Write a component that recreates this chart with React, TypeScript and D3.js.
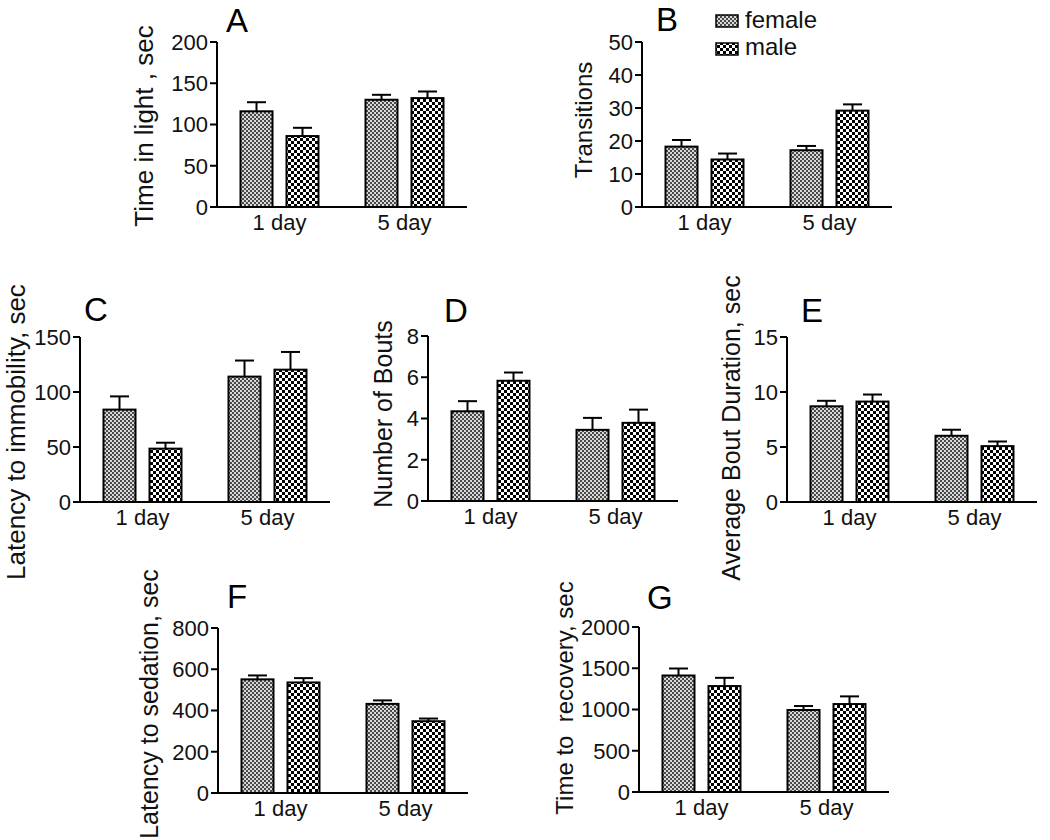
import React from "react";
import * as d3 from "d3";

// ---------- data ----------
const days = ["1 day", "5 day"];
const sexes = ["female", "male"];

// A: Time in light, sec
const lightFemale = [116, 130];
const lightFemaleErr = [11, 6];
const lightMale = [86, 132];
const lightMaleErr = [10, 8];
const lightTicks = [0, 50, 100, 150, 200];

// B: Transitions
const transFemale = [18.3, 17.2];
const transFemaleErr = [2.0, 1.3];
const transMale = [14.4, 29.2];
const transMaleErr = [1.8, 1.9];
const transTicks = [0, 10, 20, 30, 40, 50];

// C: Latency to immobility, sec
const immobFemale = [84, 114];
const immobFemaleErr = [12, 14.6];
const immobMale = [48.5, 120.3];
const immobMaleErr = [5.4, 16.1];
const immobTicks = [0, 50, 100, 150];

// D: Number of Bouts
const boutsFemale = [4.35, 3.45];
const boutsFemaleErr = [0.49, 0.58];
const boutsMale = [5.83, 3.79];
const boutsMaleErr = [0.4, 0.64];
const boutsTicks = [0, 2, 4, 6, 8];

// E: Average Bout Duration, sec
const durFemale = [8.7, 6.02];
const durFemaleErr = [0.5, 0.55];
const durMale = [9.13, 5.08];
const durMaleErr = [0.64, 0.42];
const durTicks = [0, 5, 10, 15];

// F: Latency to sedation, sec
const sedFemale = [551, 432];
const sedFemaleErr = [19, 17];
const sedMale = [536, 348];
const sedMaleErr = [21, 13];
const sedTicks = [0, 200, 400, 600, 800];

// G: Time to recovery, sec
const recFemale = [1412, 994];
const recFemaleErr = [85, 48];
const recMale = [1284, 1066];
const recMaleErr = [100, 93];
const recTicks = [0, 500, 1000, 1500, 2000];

// ---------- layout ----------
const FONT = "'Liberation Sans', Arial, Helvetica, sans-serif";
const PLOT_H = 165;
const AXIS_LEN = 250;

type PanelDef = {
  letter: string;
  title: string;
  female: number[];
  femaleErr: number[];
  male: number[];
  maleErr: number[];
  ticks: number[];
  ax: number;
  top: number;
  letterX: number;
  letterY: number;
  titleX: number;
  titleY: number;
  titleSize: number;
};

const panels: PanelDef[] = [
  { letter: "A", title: "Time in light , sec", female: lightFemale, femaleErr: lightFemaleErr, male: lightMale, maleErr: lightMaleErr, ticks: lightTicks, ax: 217, top: 42, letterX: 226, letterY: 32, titleX: 153, titleY: 126, titleSize: 26 },
  { letter: "B", title: "Transitions", female: transFemale, femaleErr: transFemaleErr, male: transMale, maleErr: transMaleErr, ticks: transTicks, ax: 642, top: 42, letterX: 656, letterY: 31, titleX: 592, titleY: 120, titleSize: 24 },
  { letter: "C", title: "Latency to immobility, sec", female: immobFemale, femaleErr: immobFemaleErr, male: immobMale, maleErr: immobMaleErr, ticks: immobTicks, ax: 80, top: 337, letterX: 84, letterY: 321, titleX: 25, titleY: 432, titleSize: 26 },
  { letter: "D", title: "Number of Bouts", female: boutsFemale, femaleErr: boutsFemaleErr, male: boutsMale, maleErr: boutsMaleErr, ticks: boutsTicks, ax: 428, top: 336, letterX: 444, letterY: 322, titleX: 392, titleY: 414, titleSize: 25 },
  { letter: "E", title: "Average Bout Duration, sec", female: durFemale, femaleErr: durFemaleErr, male: durMale, maleErr: durMaleErr, ticks: durTicks, ax: 787, top: 337, letterX: 801, letterY: 322, titleX: 740, titleY: 428, titleSize: 25 },
  { letter: "F", title: "Latency to sedation, sec", female: sedFemale, femaleErr: sedFemaleErr, male: sedMale, maleErr: sedMaleErr, ticks: sedTicks, ax: 218, top: 628, letterX: 227, letterY: 608, titleX: 158, titleY: 704, titleSize: 25 },
  { letter: "G", title: "Time to  recovery, sec", female: recFemale, femaleErr: recFemaleErr, male: recMale, maleErr: recMaleErr, ticks: recTicks, ax: 639, top: 627, letterX: 647, letterY: 609, titleX: 573, titleY: 698, titleSize: 24 },
];

const fillFor: Record<string, string> = { female: "url(#patFemale)", male: "url(#patMale)" };

function Panel({ p }: { p: PanelDef }) {
  const base = p.top + PLOT_H;
  const yMax = p.ticks[p.ticks.length - 1];
  const y = d3.scaleLinear().domain([0, yMax]).range([base, p.top]);
  const x0 = d3.scaleBand<string>().domain(days).range([p.ax, p.ax + AXIS_LEN]).paddingInner(0).paddingOuter(0);
  const x1 = d3.scaleBand<string>().domain(sexes).range([0, x0.bandwidth()]).paddingInner(0.3043).paddingOuter(0.511);
  const bw = x1.bandwidth();
  const series: Record<string, { v: number[]; e: number[] }> = {
    female: { v: p.female, e: p.femaleErr },
    male: { v: p.male, e: p.maleErr },
  };
  return (
    <g>
      {days.map((d, di) =>
        sexes.map((s) => {
          const v = series[s].v[di];
          const e = series[s].e[di];
          const bx = (x0(d) as number) + (x1(s) as number);
          const cx = bx + bw / 2;
          const capW = 19;
          return (
            <g key={d + s}>
              <line x1={cx} x2={cx} y1={y(v)} y2={y(v + e)} stroke="#000" strokeWidth={2} />
              <line x1={cx - capW / 2} x2={cx + capW / 2} y1={y(v + e)} y2={y(v + e)} stroke="#000" strokeWidth={2} />
              <rect x={bx} y={y(v)} width={bw} height={base - y(v)} fill={fillFor[s]} stroke="#000" strokeWidth={2} />
            </g>
          );
        })
      )}
      <line x1={p.ax} x2={p.ax} y1={p.top} y2={base} stroke="#000" strokeWidth={2} />
      {p.ticks.map((t) => (
        <g key={t}>
          <line x1={p.ax - 7} x2={p.ax} y1={y(t)} y2={y(t)} stroke="#000" strokeWidth={2} />
          <text x={p.ax - 9} y={y(t)} dy="0.36em" textAnchor="end" fontSize={22} fontFamily={FONT} fill="#111">
            {t}
          </text>
        </g>
      ))}
      <line x1={p.ax - 7} x2={p.ax + AXIS_LEN} y1={base} y2={base} stroke="#000" strokeWidth={2} />
      {days.map((d) => (
        <text key={d} x={(x0(d) as number) + x0.bandwidth() / 2} y={base + 23} textAnchor="middle" fontSize={22} fontFamily={FONT} fill="#111">
          {d}
        </text>
      ))}
      <text
        transform={`translate(${p.titleX},${p.titleY}) rotate(-90)`}
        textAnchor="middle"
        fontSize={p.titleSize}
        fontFamily={FONT}
        fill="#111"
        style={{ whiteSpace: "pre" }}
      >
        {p.title}
      </text>
      <text x={p.letterX} y={p.letterY} fontSize={33} fontFamily={FONT} fill="#000">
        {p.letter}
      </text>
    </g>
  );
}

export default function App() {
  return (
    <svg
      width={1050}
      height={840}
      viewBox="0 0 1050 840"
      style={{ position: "absolute", left: 0, top: 0, background: "#fff" }}
    >
      <defs>
        <pattern id="patFemale" patternUnits="userSpaceOnUse" width={4} height={4}>
          <rect x={0} y={0} width={4} height={4} fill="#d8d8d8" />
          <rect x={0} y={0} width={2} height={2} fill="#4a4a4a" />
          <rect x={2} y={2} width={2} height={2} fill="#4a4a4a" />
        </pattern>
        <pattern id="patMale" patternUnits="userSpaceOnUse" width={6} height={6}>
          <rect x={0} y={0} width={6} height={6} fill="#fff" />
          <rect x={0} y={0} width={3} height={3} fill="#000" />
          <rect x={3} y={3} width={3} height={3} fill="#000" />
        </pattern>
      </defs>
      <rect x={0} y={0} width={1050} height={840} fill="#fff" />
      {panels.map((p) => (
        <Panel key={p.letter} p={p} />
      ))}
      {sexes.map((s, i) => (
        <g key={s}>
          <rect x={716} y={15 + i * 28} width={22} height={12} fill={fillFor[s]} stroke="#000" strokeWidth={1.5} />
          <text x={745} y={28 + i * 27} fontSize={24} fontFamily={FONT} fill="#111">
            {s}
          </text>
        </g>
      ))}
    </svg>
  );
}
